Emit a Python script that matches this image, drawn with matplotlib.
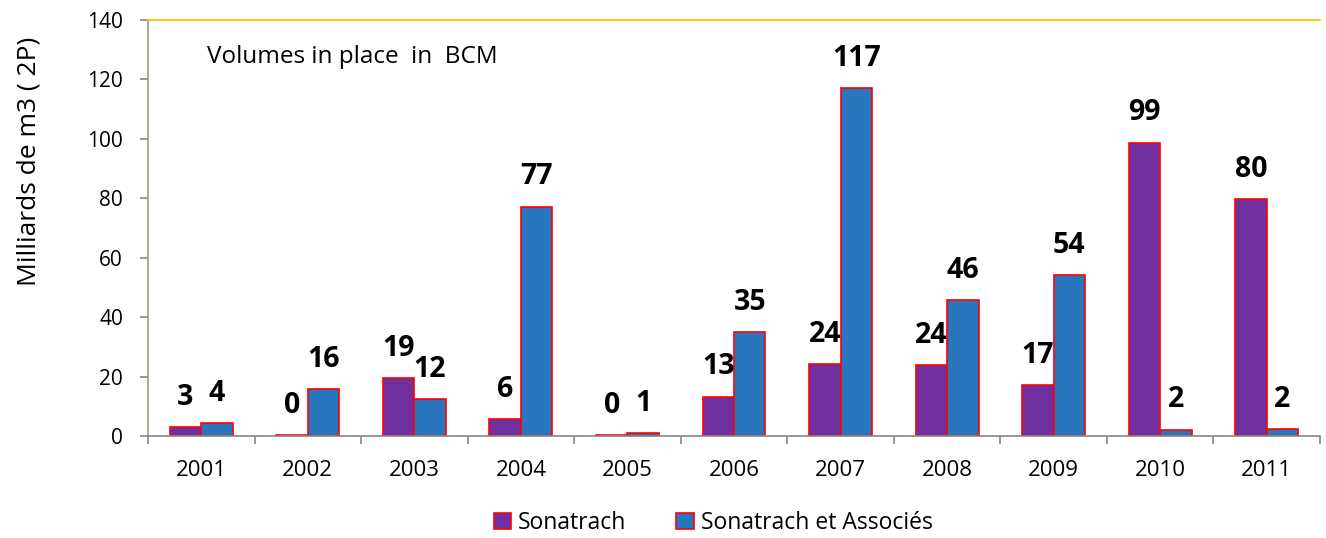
import matplotlib.pyplot as plt
import numpy as np

#### data ####
years = ['2001', '2002', '2003', '2004', '2005', '2006', '2007', '2008', '2009', '2010', '2011']
sonatrach = [2.9, 0.2, 19.4, 5.6, 0.2, 13.2, 24.2, 23.9, 17.2, 98.7, 79.8]
associes = [4.3, 15.8, 12.4, 77.2, 0.9, 35.0, 117.0, 45.7, 54.2, 2.1, 2.4]
yticks = [0, 20, 40, 60, 80, 100, 120, 140]

plt.rcParams['font.family'] = ['Open Sans', 'DejaVu Sans']

fig = plt.figure(figsize=(13.26, 5.38), dpi=100)
ax = fig.add_axes([148/1326, 102/538, 1172/1326, 416/538])

x = np.arange(len(years))
w = 0.295
b1 = ax.bar(x - w/2, sonatrach, w, color='#7030A0', edgecolor='#FF0000', linewidth=1.2, label='Sonatrach')
b2 = ax.bar(x + w/2, associes, w, color='#2A76BE', edgecolor='#FF0000', linewidth=1.2, label='Sonatrach et Associés')

for bars, vals in [(b1, sonatrach), (b2, associes)]:
    for r, v in zip(bars, vals):
        ax.annotate(f'{v:.0f}', (r.get_x() + r.get_width()/2, v), xytext=(0, 21.5),
                    textcoords='offset points', ha='center', va='center',
                    fontsize=20.5, fontweight='bold')

ax.set_xlim(-0.5, len(years) - 0.5)
ax.set_ylim(0, 140)
ax.set_yticks(yticks)
ax.set_xticks(x)
ax.set_xticklabels(years)
ax.set_xticks(np.arange(-0.5, len(years)), minor=True)
ax.tick_params(axis='x', which='major', length=0, labelsize=16, pad=17)
ax.tick_params(axis='x', which='minor', length=6, color='#868686', width=1.2)
ax.tick_params(axis='y', length=6, color='#868686', width=1.2, labelsize=15, pad=12)

ax.spines['right'].set_visible(False)
ax.spines['top'].set_color('#FFC000')
ax.spines['top'].set_linewidth(1.3)
ax.spines['left'].set_color('#A09880')
ax.spines['left'].set_linewidth(1.2)
ax.spines['bottom'].set_color('#868686')
ax.spines['bottom'].set_linewidth(1.2)

ax.set_ylabel('Milliards de m3 ( 2P)', fontsize=19)
ax.yaxis.set_label_coords(-0.091, 0.66)
ax.text(0.05, 127.5, 'Volumes in place  in  BCM', fontsize=17.5, va='center')

handles, labels = ax.get_legend_handles_labels()
fig.legend(handles, labels, loc='center', bbox_to_anchor=(713/1326, 15/538), ncol=2, frameon=False,
           fontsize=16.5, handlelength=0.75, handleheight=0.75, handletextpad=0.3, columnspacing=2.2)

fig.savefig('out.png', dpi=100)
